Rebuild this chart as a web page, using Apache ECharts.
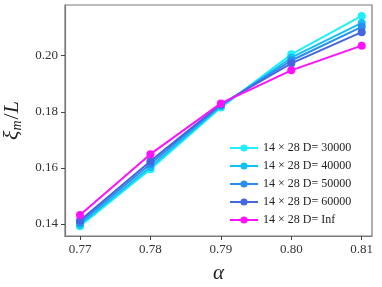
<!DOCTYPE html>
<html><head><meta charset="utf-8">
<script src="https://cdn.jsdelivr.net/npm/echarts@6/dist/echarts.min.js"></script>
<style>html,body{margin:0;padding:0;background:#fff}#c{width:382px;height:287px}</style>
</head><body><div id="c"></div>
<script>
const alphas = [0.77, 0.78, 0.79, 0.80, 0.81];
const seriesNames = ['14 × 28 D= 30000', '14 × 28 D= 40000', '14 × 28 D= 50000', '14 × 28 D= 60000', '14 × 28 D= Inf'];
const d30000 = [0.1392, 0.1595, 0.1815, 0.2005, 0.2142];
const d40000 = [0.1398, 0.1603, 0.1820, 0.1993, 0.2117];
const d50000 = [0.1405, 0.1614, 0.1824, 0.1983, 0.2103];
const d60000 = [0.1412, 0.1624, 0.1827, 0.1973, 0.2084];
const dInf   = [0.1432, 0.1649, 0.1830, 0.1948, 0.2036];
const xTicks = [0.77, 0.78, 0.79, 0.80, 0.81];
const yTicks = [0.14, 0.16, 0.18, 0.20];
const colors = ['#1ef0f8', '#10bff5', '#2a8ef0', '#4466de', '#ff10ff'];
const allData = [d30000, d40000, d50000, d60000, dInf];

const font = 'Liberation Serif';
const chart = echarts.init(document.getElementById('c'));
chart.setOption({
  animation: false,
  grid: {left: 65, right: 10, top: 5, bottom: 51, show: true, borderColor: '#7a7a7a', borderWidth: 1.2,
    containLabel: false, outerBoundsMode: 'none'},
  legend: {
    orient: 'vertical', left: 224, top: 137, itemWidth: 28, itemHeight: 9, itemGap: 6,
    textStyle: {fontFamily: font, fontSize: 12, color: '#222'},
    data: seriesNames
  },
  xAxis: {
    type: 'value', min: 0.76787, max: 0.81146,
    name: 'α', nameLocation: 'middle', nameGap: 27,
    nameTextStyle: {fontFamily: font, fontStyle: 'italic', fontSize: 21, color: '#222'},
    axisLine: {show: true, lineStyle: {color: '#7a7a7a', width: 1.2}},
    axisTick: {show: true, length: 4, customValues: xTicks, lineStyle: {color: '#444'}},
    axisLabel: {customValues: xTicks, fontFamily: font, fontSize: 13, color: '#333', margin: 7,
      formatter: v => v.toFixed(2)},
    splitLine: {show: false}
  },
  yAxis: {
    type: 'value', min: 0.1357, max: 0.2181,
    name: '{i|ξ}{s|m}{n|/}{i|L}', nameLocation: 'middle', nameGap: 38, nameRotate: 90,
    nameTextStyle: {
      rich: {
        i: {fontFamily: font, fontStyle: 'italic', fontSize: 22, color: '#222'},
        n: {fontFamily: font, fontSize: 22, color: '#222'},
        s: {fontFamily: font, fontStyle: 'italic', fontSize: 14, color: '#222', padding: [10, 1, 0, 0]}
      }
    },
    axisLine: {show: true, lineStyle: {color: '#7a7a7a', width: 1.2}},
    axisTick: {show: true, length: 4, customValues: yTicks, lineStyle: {color: '#444'}},
    axisLabel: {customValues: yTicks, fontFamily: font, fontSize: 13, color: '#333', margin: 7,
      formatter: v => v.toFixed(2)},
    splitLine: {show: false}
  },
  series: seriesNames.map((n, k) => ({
    name: n, type: 'line',
    data: alphas.map((a, j) => [a, allData[k][j]]),
    symbol: 'circle', symbolSize: 8,
    lineStyle: {color: colors[k], width: 2},
    itemStyle: {color: colors[k]},
    z: 2 + k
  }))
});
</script></body></html>
